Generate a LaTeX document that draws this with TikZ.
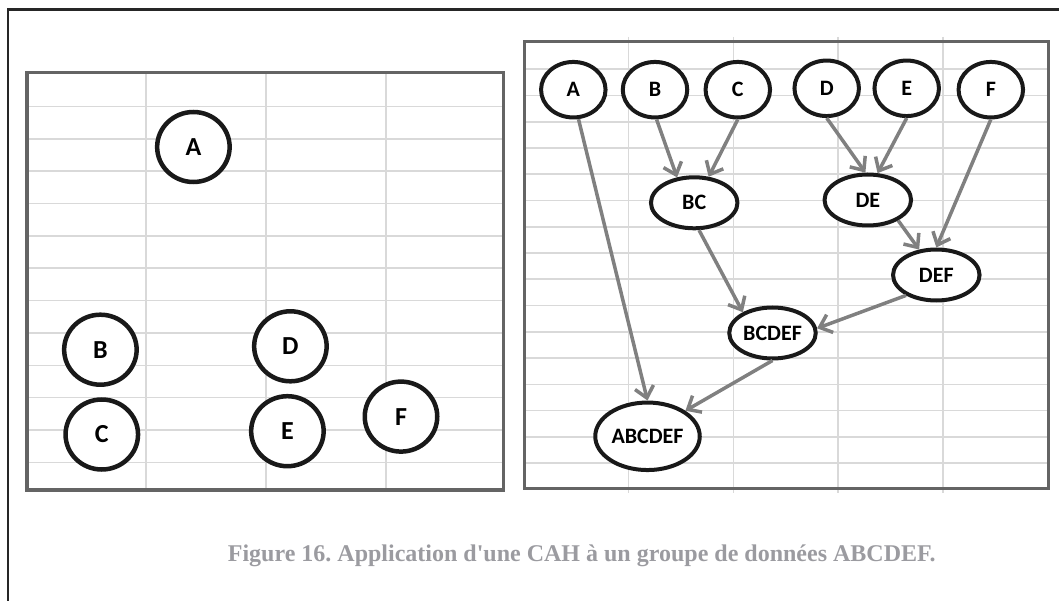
\documentclass[tikz,border=0pt]{standalone}
\usepackage{fontspec}
\setmainfont{Liberation Serif}
\newfontfamily\calib{Carlito}
\usepackage{xcolor}
\usetikzlibrary{positioning,shapes,arrows.meta}
\definecolor{panelgray}{RGB}{100,100,100}
\definecolor{gridgray}{RGB}{217,217,217}
\definecolor{linkgray}{RGB}{128,128,128}
\definecolor{capgray}{RGB}{155,155,160}
\tikzset{point node/.style={ellipse,draw=black!90,fill=white,line width=4.5pt,minimum width=72.5pt,minimum height=70pt,inner sep=0pt,font=\calib\bfseries\fontsize{26}{26}\selectfont}}
\tikzset{main node/.style={ellipse,draw=black!90,fill=white,line width=4pt,minimum width=64.5pt,minimum height=55.5pt,inner sep=0pt,font=\calib\bfseries\fontsize{22}{22}\selectfont}}
\tikzset{group node/.style={main node,minimum width=86.5pt,minimum height=51pt}}
\tikzset{link/.style={draw=linkgray,line width=3.5pt,-{Straight Barb[length=11pt,width=19pt]}}}
\tikzset{panel/.style={draw=panelgray,line width=3.5pt}}
\tikzset{grid line/.style={draw=gridgray,line width=1.6pt}}

\begin{document}
\frenchspacing
\begin{tikzpicture}[x=1pt, y=-1pt, auto]
      \useasboundingbox (0,0) rectangle (1059,601);
      \draw[line width=2.2pt, black!85] (8,601) -- (8,9.5) -- (1059,9.5);
      % left panel: the raw points
      \foreach \y in {0,...,11} \draw[grid line] (27,106.5+32.35*\y) -- (503.7,106.5+32.35*\y);
      \foreach \x in {146,266,386} \draw[grid line] (\x,72.7) -- (\x,490);
      \draw[panel] (27,72.7) rectangle (503.7,490);
      \node[point node] (la) at (193.4,147) {A};
      \node[point node] (lb) at (100.4,349.7) {B};
      \node[point node] (lc) at (101.8,434.5) {C};
      \node[point node] (ld) at (290.4,346.3) {D};
      \node[point node] (le) at (287.4,431.2) {E};
      \node[point node] (lf) at (401,416.6) {F};
      % right panel: the hierarchy
      \foreach \y in {0,...,15} \draw[grid line] (524.3,69.3+26.25*\y) -- (1048.3,69.3+26.25*\y);
      \foreach \x in {628.3,733.3,837.7,942.7} \draw[grid line] (\x,37) -- (\x,493);
      \draw[panel] (524.3,41.7) rectangle (1048.3,488.3);
      \node[main node] (a) at (573.3,89.7) {A};
      \node[main node] (b) at (655,89.7) {B};
      \node[main node] (c) at (737.8,89.7) {C};
      \node[main node] (d) at (826.7,88.3) {D};
      \node[main node] (e) at (906.7,88.3) {E};
      \node[main node] (f) at (990.8,89.7) {F};
      \node[group node] (bc) at (694.2,202.8) {BC};
      \node[group node] (de) at (867.8,200) {DE};
      \node[group node] (def) at (936.3,275) {DEF};
      \node[group node] (bcdef) at (772.5,333) {BCDEF};
      \node[group node, minimum width=104.5pt, minimum height=67.5pt] (abcdef) at (647.5,436.3) {ABCDEF};
      \draw[link] (a.-80) -- (abcdef.north);
      \draw[link] (b.-87) -- (bc.124);
      \draw[link] (c.south) -- (bc.61);
      \draw[link] (d.south) -- (de.95);
      \draw[link] (e.south) -- (de.70);
      \draw[link] (f.south) -- (def.north);
      \draw[link] (de.-34) -- (def.124);
      \draw[link] (bc.-80) -- (bcdef.145);
      \draw[link] (def.-146) -- (bcdef.6);
      \draw[link] (bcdef.south) -- (abcdef.34);
      \node[anchor=base west, inner sep=0pt, text=capgray, font=\bfseries\fontsize{24}{24}\selectfont] (caption) at (227.7,561) {Figure 16. Application d\textquotesingle une CAH à un groupe de données ABCDEF.};
    \end{tikzpicture}
\end{document}
